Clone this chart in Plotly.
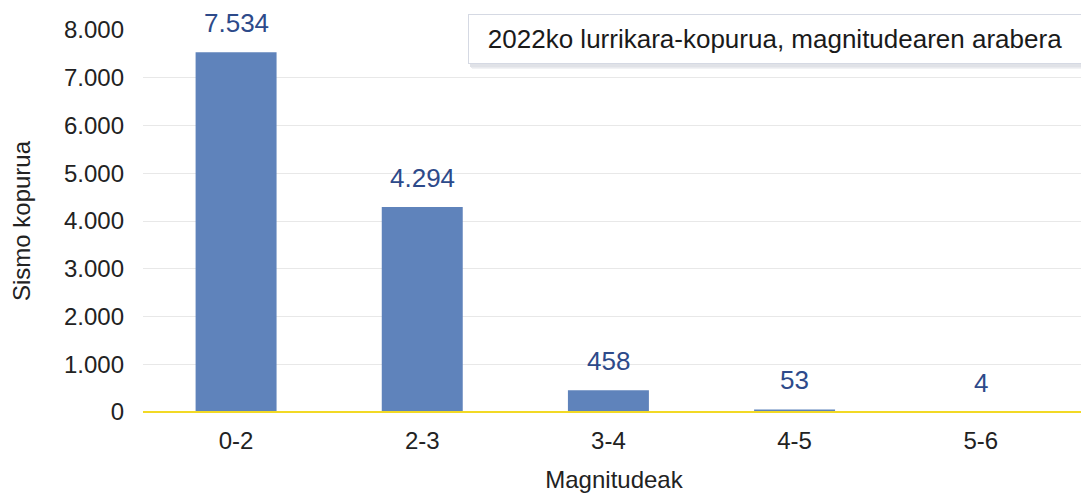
import plotly.graph_objects as go

categories = ["0-2", "2-3", "3-4", "4-5", "5-6"]
counts = [7534, 4294, 458, 53, 4]
y_ticks = [0, 1000, 2000, 3000, 4000, 5000, 6000, 7000, 8000]
y_tick_labels = ["0", "1.000", "2.000", "3.000", "4.000", "5.000", "6.000", "7.000", "8.000"]
title_text = "2022ko lurrikara-kopurua, magnitudearen arabera"

FONT = "Liberation Sans, Arial"

def fmt(v):
    return f"{v:,}".replace(",", ".")

fig = go.Figure()
fig.add_trace(go.Bar(
    x=categories, y=counts,
    marker=dict(color="#5f83bb", line=dict(width=0)),
    width=0.435,
    hoverinfo="skip",
))

for c, v in zip(categories, counts):
    fig.add_annotation(
        x=c, y=v, xref="x", yref="y", text=fmt(v), showarrow=False,
        yanchor="bottom", yshift=12,
        font=dict(family=FONT, size=26, color="#2d4a8a"),
    )

# soft shadow under the title box
for dx, dy, col in [(4, 5, "#f1f2f4"), (3, 4, "#e9eaee"), (2, 3, "#e0e2e7")]:
    x0p, x1p = 460 + dx, 1074 + dx
    y0p, y1p = 6 + dy, 56 + dy
    fig.add_shape(type="rect", xref="paper", yref="paper",
                  x0=(x0p - 135) / 942, x1=(x1p - 135) / 942,
                  y0=(404 - y1p) / 382, y1=(404 - y0p) / 382,
                  line=dict(width=0), fillcolor=col, layer="above")

fig.add_annotation(
    xref="paper", yref="paper", x=0.9968, y=0.976, xanchor="right", yanchor="middle",
    text=title_text, showarrow=False, width=594, align="center",
    font=dict(family=FONT, size=26, color="#1a1a1a"),
    bgcolor="white", bordercolor="#d5d9e3", borderwidth=1, borderpad=9,
)

fig.update_layout(
    width=1081, height=486,
    margin=dict(l=135, r=4, t=22, b=82, autoexpand=False),
    paper_bgcolor="white", plot_bgcolor="white",
    showlegend=False,
    separators=",.",
    font=dict(family=FONT, size=24, color="#222222"),
    xaxis=dict(
        range=[-0.5, 4.56],
        showgrid=False, showline=False, zeroline=False,
        automargin=False,
        tickfont=dict(family=FONT, size=24, color="#222222"),
        ticklabelstandoff=12,
        title=dict(text="Magnitudeak", font=dict(family=FONT, size=24, color="#222222"), standoff=18),
    ),
    yaxis=dict(
        range=[0, 8000],
        tickvals=y_ticks, ticktext=y_tick_labels,
        showgrid=True, gridcolor="#e8e8e8", gridwidth=1,
        zeroline=False, showline=False,
        automargin=False,
        tickfont=dict(family=FONT, size=24, color="#222222"),
        ticklabelstandoff=18,
        title=dict(text="Sismo kopurua", font=dict(family=FONT, size=24, color="#222222"), standoff=26),
    ),
)

fig.add_shape(type="line", xref="paper", yref="paper", x0=0, x1=1, y0=0, y1=0,
              line=dict(color="#f2d925", width=2), layer="above")

fig.write_html("out.html")
